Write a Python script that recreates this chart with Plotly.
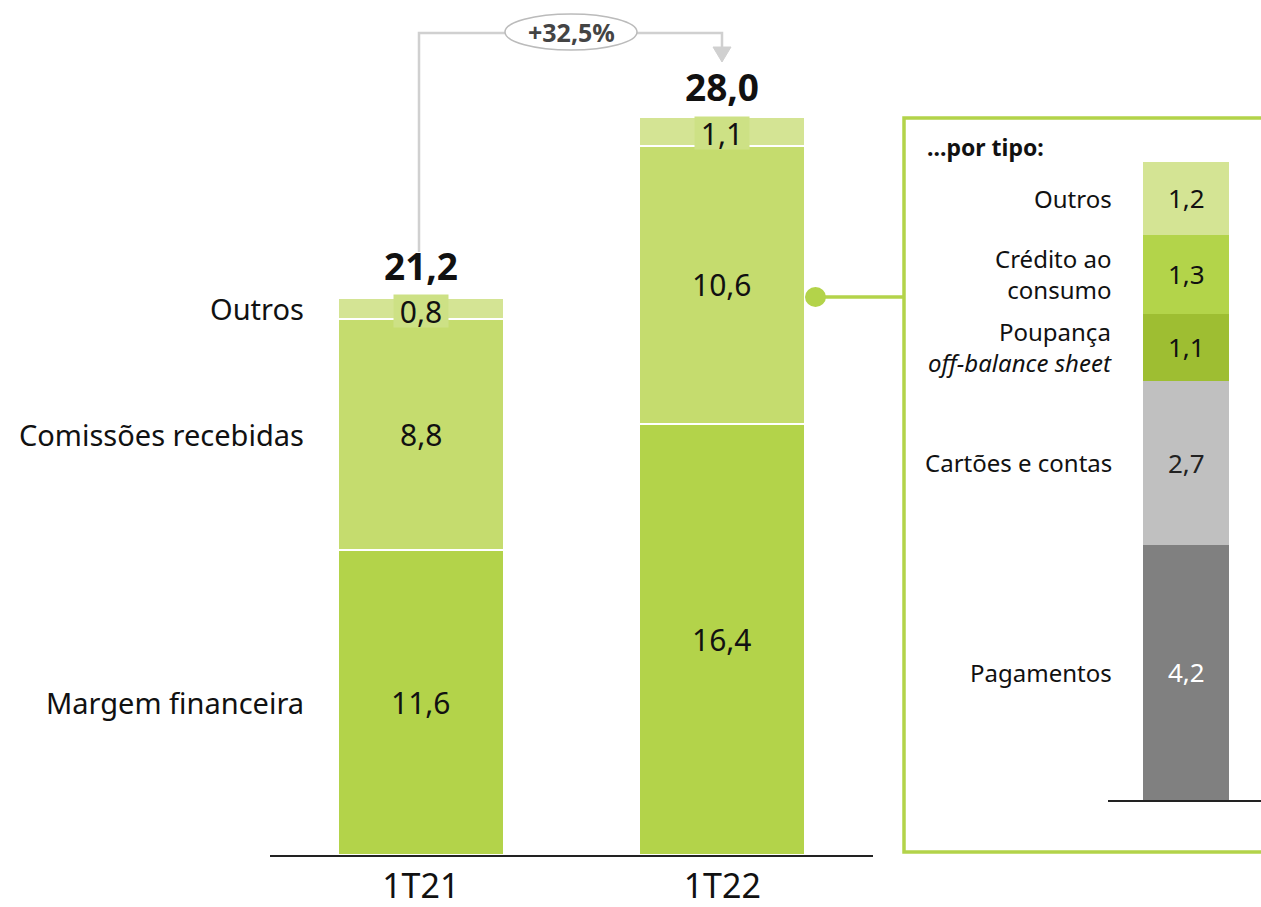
import plotly.graph_objects as go

W, H = 1261, 907

# ---- data ----
periods = ["1T21", "1T22"]
series_names = ["Margem financeira", "Comissões recebidas", "Outros"]
margem = [11.6, 16.4]
comissoes = [8.8, 10.6]
outros = [0.8, 1.1]
totals = [21.2, 28.0]
growth_label = "+32,5%"

type_names = ["Pagamentos", "Cartões e contas", "Poupança<br><i>off-balance sheet</i>",
              "Crédito ao<br>consumo", "Outros"]
type_values = [4.2, 2.7, 1.1, 1.3, 1.2]
panel_title = "...por tipo:"

# ---- styles ----
main_colors = ["#b3d34a", "#c5dc6e", "#d4e494"]
type_colors = ["#808080", "#c0c0c0", "#9ebe32", "#b3d44a", "#d4e494"]
type_text_colors = ["white", "#222", "#111", "#111", "#111"]
FONT = "Noto Sans"

def px_x(x):
    return x / W

def px_y(y):
    return (H - y) / H

fig = go.Figure()

main_series = [margem, comissoes, outros]
for name, vals, col in zip(series_names, main_series, main_colors):
    fig.add_trace(go.Bar(
        x=periods, y=vals, name=name, marker=dict(color=col, line=dict(color="white", width=2)),
        width=0.55, xaxis="x", yaxis="y", hoverinfo="skip"))

for name, val, col in zip(type_names, type_values, type_colors):
    fig.add_trace(go.Bar(
        x=["tipo"], y=[val], name=name, marker=dict(color=col, line=dict(width=0)),
        width=1, xaxis="x2", yaxis="y2", hoverinfo="skip"))

ann = []
fmt = lambda v: f"{v:.1f}".replace(".", ",")

# value labels main bars
for i, p in enumerate(periods):
    base = 0
    for k, vals in enumerate(main_series):
        v = vals[i]
        mid = base + v / 2
        a = dict(x=p, y=mid, xref="x", yref="y", text=fmt(v), showarrow=False,
                 xanchor="center", yanchor="middle",
                 font=dict(family=FONT, size=30, color="#111"))
        if k == 2:
            a.update(bgcolor="#cde185", borderpad=0, width=54, height=32, yshift=-2)
        ann.append(a)
        base += v
    ann.append(dict(x=p, y=totals[i], xref="x", yref="y", text=f"<b>{fmt(totals[i])}</b>",
                    showarrow=False, xanchor="center", yanchor="bottom", yshift=5,
                    font=dict(family=FONT, size=37, color="#111")))

# category labels at left (using 1T21 segments)
base = 0
for name, vals in zip(series_names, main_series):
    v = vals[0]
    ann.append(dict(x=px_x(306), xref="paper", y=base + v / 2, yref="y", text=name,
                    xanchor="right", yanchor="middle", showarrow=False,
                    font=dict(family=FONT, size=29, color="#111")))
    base += v

# right panel labels
base = 0
for name, v, tc in zip(type_names, type_values, type_text_colors):
    mid = base + v / 2
    ann.append(dict(x="tipo", xref="x2", y=mid, yref="y2", text=fmt(v), showarrow=False,
                    xanchor="center", yanchor="middle",
                    font=dict(family=FONT, size=26, color=tc)))
    ann.append(dict(x=px_x(1114), xref="paper", y=mid, yref="y2", text=name,
                    xanchor="right", yanchor="middle", showarrow=False, align="right",
                    font=dict(family=FONT, size=24, color="#111")))
    base += v

ann.append(dict(x=px_x(925), y=px_y(147), xref="paper", yref="paper", text=f"<b>{panel_title}</b>",
                xanchor="left", yanchor="middle", showarrow=False,
                font=dict(family=FONT, size=23, color="#111")))

# growth label
ann.append(dict(x=px_x(571), y=px_y(32), xref="paper", yref="paper", text=f"<b>{growth_label}</b>",
                xanchor="center", yanchor="middle", showarrow=False,
                font=dict(family=FONT, size=25, color="#444")))

shapes = []
gray = "#d0d0d0"
# growth connector
shapes.append(dict(type="path", xref="paper", yref="paper", layer="below",
                   path=f"M {px_x(419)} {px_y(252)} L {px_x(419)} {px_y(33)} L {px_x(722)} {px_y(33)} L {px_x(722)} {px_y(48)}",
                   line=dict(color=gray, width=2.5)))
shapes.append(dict(type="path", xref="paper", yref="paper", layer="below",
                   path=f"M {px_x(713)} {px_y(47)} L {px_x(731)} {px_y(47)} L {px_x(722)} {px_y(62)} Z",
                   fillcolor=gray, line=dict(color=gray, width=1)))
shapes.append(dict(type="circle", xref="paper", yref="paper", layer="below",
                   x0=px_x(505), x1=px_x(637), y0=px_y(50), y1=px_y(14),
                   fillcolor="white", line=dict(color="#bbbbbb", width=1.5)))

# green panel box
green = "#b3d34a"
shapes.append(dict(type="path", xref="paper", yref="paper",
                   path=f"M {px_x(1262)} {px_y(118)} L {px_x(904)} {px_y(118)} L {px_x(904)} {px_y(852)} L {px_x(1262)} {px_y(852)}",
                   line=dict(color=green, width=3.5)))
shapes.append(dict(type="line", xref="paper", yref="paper",
                   x0=px_x(815), x1=px_x(904), y0=px_y(297), y1=px_y(297),
                   line=dict(color=green, width=3.5)))
shapes.append(dict(type="circle", xref="paper", yref="paper",
                   x0=px_x(805), x1=px_x(826), y0=px_y(307), y1=px_y(287),
                   fillcolor=green, line=dict(color=green, width=0)))

fig.update_layout(
    width=W, height=H, margin=dict(l=0, r=0, t=0, b=0, autoexpand=False),
    paper_bgcolor="white", plot_bgcolor="white",
    barmode="stack", showlegend=False,
    font=dict(family=FONT, color="#111"),
    xaxis=dict(domain=[px_x(270), px_x(873)], range=[-0.5, 1.5], type="category",
               showline=True, linecolor="#222", linewidth=2, ticks="", automargin=False,
               tickfont=dict(family=FONT, size=34, color="#111"), showgrid=False,
               fixedrange=True),
    yaxis=dict(domain=[(H - 855) / H, 1], range=[0, 855 / 26.27], visible=False,
               automargin=False, showgrid=False, fixedrange=True),
    xaxis2=dict(domain=[px_x(1108), 1], range=[-78 / 86, 75 / 86], type="category",
                anchor="y2", showline=True, linecolor="#222", linewidth=2, automargin=False,
                showticklabels=False, ticks="", showgrid=False, fixedrange=True),
    yaxis2=dict(domain=[(H - 800) / H, 1], range=[0, 800 / 60.76], anchor="x2",
                automargin=False, visible=False, showgrid=False, fixedrange=True),
    annotations=ann, shapes=shapes,
)

fig.write_html("out.html", config={"displayModeBar": False},
               post_script="document.body.style.margin='0';document.body.style.overflow='hidden';")
